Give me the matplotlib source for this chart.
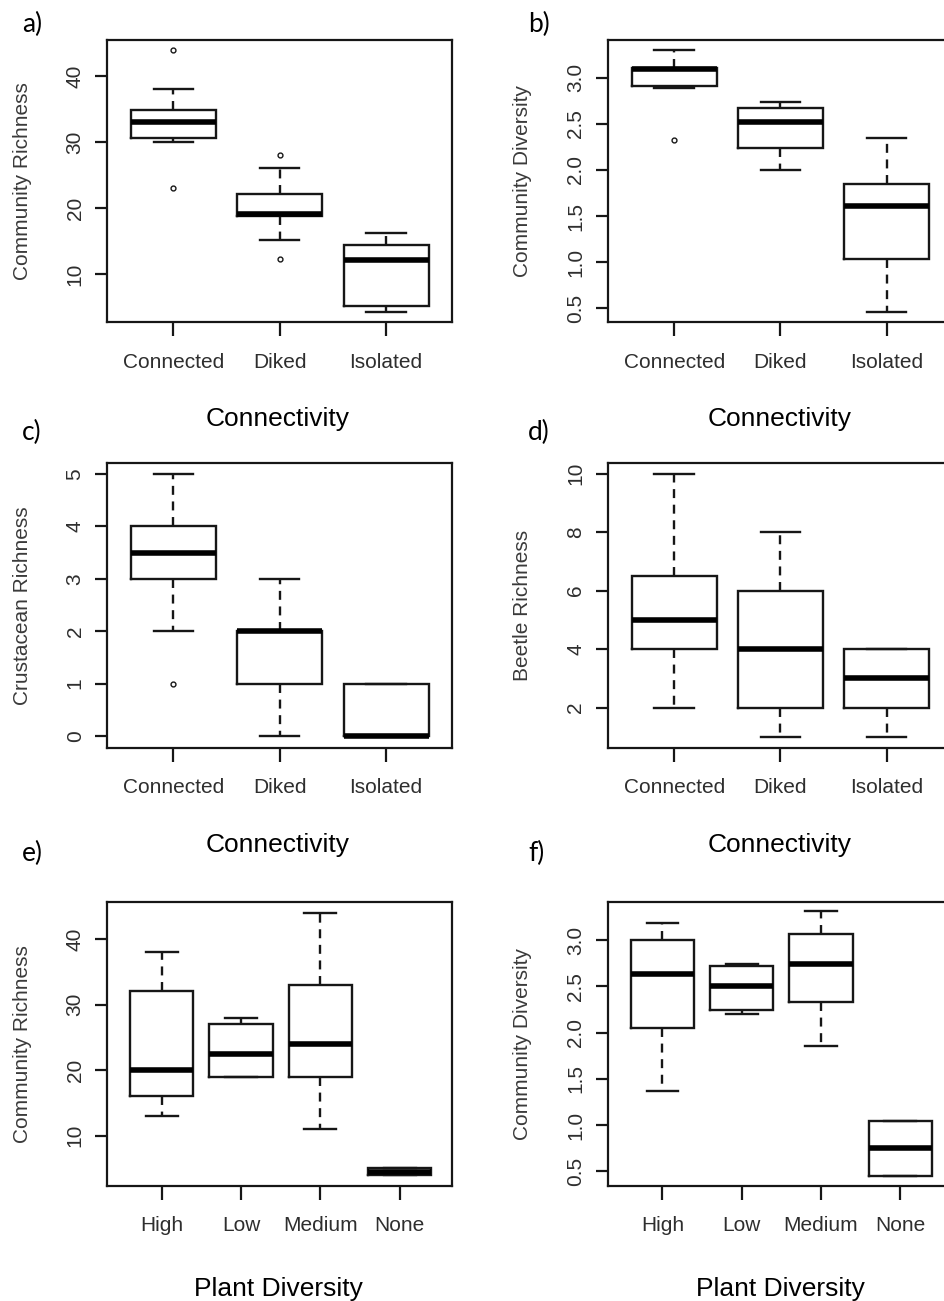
import matplotlib
matplotlib.use("Agg")
import matplotlib.pyplot as plt

# ---------------- data ----------------
conn_groups = ["Connected", "Diked", "Isolated"]
plant_groups = ["High", "Low", "Medium", "None"]

# a) Community Richness by Connectivity
a_whislo = [30.0, 15.2, 4.2]
a_q1 = [30.6, 18.8, 5.2]
a_med = [33.0, 19.1, 12.1]
a_q3 = [34.9, 22.2, 14.4]
a_whishi = [38.0, 26.1, 16.2]
a_fliers = [[44.0, 23.0], [28.0, 12.2], []]

# b) Community Diversity by Connectivity
b_whislo = [2.89, 2.00, 0.46]
b_q1 = [2.91, 2.24, 1.03]
b_med = [3.09, 2.52, 1.61]
b_q3 = [3.11, 2.67, 1.85]
b_whishi = [3.30, 2.74, 2.35]
b_fliers = [[2.32], [], []]

# c) Crustacean Richness by Connectivity
c_whislo = [2, 0, 0]
c_q1 = [3, 1, 0]
c_med = [3.5, 2, 0]
c_q3 = [4, 2, 1]
c_whishi = [5, 3, 1]
c_fliers = [[1], [], []]

# d) Beetle Richness by Connectivity
d_whislo = [2, 1, 1]
d_q1 = [4, 2, 2]
d_med = [5, 4, 3]
d_q3 = [6.5, 6, 4]
d_whishi = [10, 8, 4]
d_fliers = [[], [], []]

# e) Community Richness by Plant Diversity
e_whislo = [13, 19, 11, 4]
e_q1 = [16, 19, 19, 4]
e_med = [20, 22.5, 24, 4.5]
e_q3 = [32, 27, 33, 5]
e_whishi = [38, 28, 44, 5]
e_fliers = [[], [], [], []]

# f) Community Diversity by Plant Diversity
f_whislo = [1.37, 2.20, 1.86, 0.45]
f_q1 = [2.05, 2.24, 2.33, 0.45]
f_med = [2.63, 2.50, 2.74, 0.75]
f_q3 = [3.00, 2.72, 3.07, 1.04]
f_whishi = [3.18, 2.74, 3.31, 1.04]
f_fliers = [[], [], [], []]

richness_ticks = [10, 20, 30, 40]
richness_labels = ["10", "20", "30", "40"]
diversity_ticks = [0.5, 1.0, 1.5, 2.0, 2.5, 3.0]
diversity_labels = ["0.5", "1.0", "1.5", "2.0", "2.5", "3.0"]
crust_ticks = [0, 1, 2, 3, 4, 5]
crust_labels = ["0", "1", "2", "3", "4", "5"]
beetle_ticks = [2, 4, 6, 8, 10]
beetle_labels = ["2", "4", "6", "8", "10"]

# ---------------- figure ----------------
W, H = 944, 1301
fig = plt.figure(figsize=(W / 100, H / 100), dpi=100)
fig.patch.set_facecolor("white")

LC = "#161616"
TXT = "#2e2e2e"
TICKFONT = "Liberation Sans"


def px_axes(x0, y0, x1, y1):
    return [x0 / W, 1 - y1 / H, (x1 - x0) / W, (y1 - y0) / H]


def make_stats(lo, q1, med, q3, hi, fl):
    return [dict(whislo=lo[i], q1=q1[i], med=med[i], q3=q3[i], whishi=hi[i],
                 fliers=fl[i]) for i in range(len(med))]


def panel(rect, stats, groups, xlim, ylim, yticks, ylabels, capw):
    ax = fig.add_axes(px_axes(*rect))
    pos = list(range(1, len(groups) + 1))
    ax.bxp(stats, positions=pos, widths=0.8, capwidths=capw,
           boxprops=dict(color=LC, linewidth=1.7, solid_joinstyle="miter"),
           whiskerprops=dict(color=LC, linewidth=1.7, linestyle=(0, (3.8, 2.8))),
           capprops=dict(color=LC, linewidth=1.7),
           medianprops=dict(color="black", linewidth=4.0, solid_capstyle="butt"),
           flierprops=dict(marker="o", markersize=3.5, markerfacecolor="none",
                           markeredgecolor=LC, markeredgewidth=1.0),
           manage_ticks=False)
    ax.set_xlim(*xlim)
    ax.set_ylim(*ylim)
    ax.set_xticks(pos)
    ax.set_xticklabels(groups, fontsize=15, family=TICKFONT, color=TXT)
    ax.set_yticks(yticks)
    ax.set_yticklabels(ylabels, rotation=90, va="center", fontsize=15,
                       family=TICKFONT, color=TXT)
    ax.tick_params(axis="x", length=10, width=1.6, pad=12, color=LC)
    ax.tick_params(axis="y", length=8.6, width=1.6, pad=7.5, color=LC)
    for s in ax.spines.values():
        s.set_linewidth(1.6)
        s.set_color(LC)
    return ax


LEFT = (107, 452)
RIGHT = (607.7, 952.7)
ROWS = [(40, 322), (463.3, 747.7), (901.7, 1185.7)]
XL3 = (0.375, 3.62)
XL4 = (0.31, 4.66)

panels = [
    (LEFT, ROWS[0], make_stats(a_whislo, a_q1, a_med, a_q3, a_whishi, a_fliers), conn_groups, XL3, (2.7, 45.5), richness_ticks, richness_labels, 0.37, "Community Richness", "a)", "Connectivity"),
    (RIGHT, ROWS[0], make_stats(b_whislo, b_q1, b_med, b_q3, b_whishi, b_fliers), conn_groups, XL3, (0.35, 3.41), diversity_ticks, diversity_labels, 0.37, "Community Diversity", "b)", "Connectivity"),
    (LEFT, ROWS[1], make_stats(c_whislo, c_q1, c_med, c_q3, c_whishi, c_fliers), conn_groups, XL3, (-0.22, 5.2), crust_ticks, crust_labels, 0.37, "Crustacean Richness", "c)", "Connectivity"),
    (RIGHT, ROWS[1], make_stats(d_whislo, d_q1, d_med, d_q3, d_whishi, d_fliers), conn_groups, XL3, (0.63, 10.35), beetle_ticks, beetle_labels, 0.37, "Beetle Richness", "d)", "Connectivity"),
    (LEFT, ROWS[2], make_stats(e_whislo, e_q1, e_med, e_q3, e_whishi, e_fliers), plant_groups, XL4, (2.35, 45.7), richness_ticks, richness_labels, 0.4, "Community Richness", "e)", "Plant Diversity"),
    (RIGHT, ROWS[2], make_stats(f_whislo, f_q1, f_med, f_q3, f_whishi, f_fliers), plant_groups, XL4, (0.345, 3.415), diversity_ticks, diversity_labels, 0.4, "Community Diversity", "f)", "Plant Diversity"),
]

letter_base = [32, 440, 861]
xlabel_base = [426, 852, 1296]

for i, (cols, rows, stats, groups, xl, yl, yt, ylb, capw, ylab, letter, xlab) in enumerate(panels):
    x0, x1 = cols
    y0, y1 = rows
    panel((x0, y0, x1, y1), stats, groups, xl, yl, yt, ylb, capw)
    r = i // 2
    left = (i % 2 == 0)
    ylx = 23 if left else 522
    fig.text(ylx / W, 1 - ((y0 + y1) / 2) / H, ylab, rotation=90, ha="center", va="center",
             fontsize=15, family=TICKFONT, color="#3a3a3a")
    lx = 22 if left else 528
    fig.text(lx / W, 1 - letter_base[r] / H, letter, ha="left", va="baseline",
             fontsize=19, family="Lato", color="black")
    xcx = 278 if left else 780
    fig.text(xcx / W, 1 - xlabel_base[r] / H, xlab, ha="center", va="baseline",
             fontsize=19, family="Liberation Sans", color="black")

fig.savefig("out.png", dpi=100, facecolor="white")
